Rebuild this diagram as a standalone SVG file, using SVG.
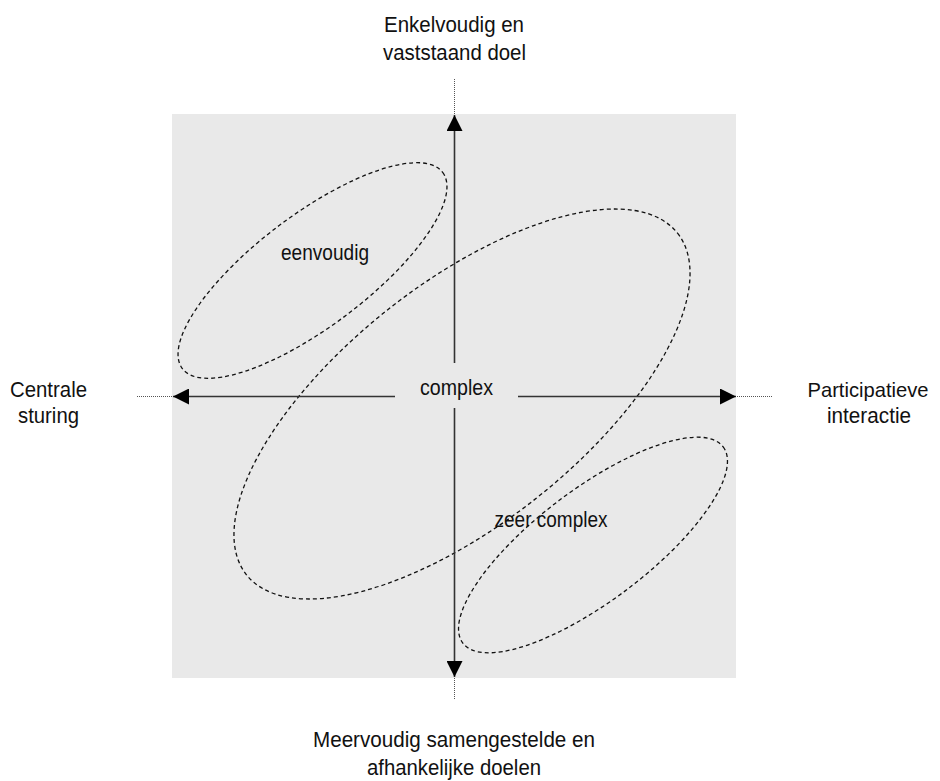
<svg xmlns="http://www.w3.org/2000/svg" width="940" height="781" viewBox="0 0 940 781">
  <defs>
    <marker id="arrow" viewBox="0 0 16 16" refX="16" refY="8" markerWidth="16" markerHeight="16" markerUnits="userSpaceOnUse" orient="auto">
      <path d="M0,0 L16,8 L0,16 Z" fill="#000"/>
    </marker>
  </defs>
  <style>
    text { font-family: "Liberation Sans", Arial, sans-serif; font-size: 22px; fill: #111; text-anchor: middle; }
    .axis { stroke: #333; stroke-width: 1.6; fill: none; }
    .ext { stroke: #555; stroke-width: 1; stroke-dasharray: 1 1; fill: none; }
    .zone { fill: none; stroke: #111; stroke-width: 1.3; stroke-dasharray: 4 3; }
  </style>
  <rect id="field" x="172" y="114" width="564" height="564" fill="#e9e9e9"/>

  <g id="zone-eenvoudig">
    <ellipse class="zone" cx="312.5" cy="270.5" rx="163" ry="56" transform="rotate(-37 312.5 270.5)"/>
    <text x="325" y="260" textLength="88" lengthAdjust="spacingAndGlyphs">eenvoudig</text>
  </g>
  <g id="zone-complex">
    <ellipse class="zone" cx="462" cy="404" rx="275" ry="120" transform="rotate(-38.4 462 404)"/>
  </g>
  <g id="zone-zeer-complex">
    <ellipse class="zone" cx="593" cy="545" rx="163" ry="56" transform="rotate(-37 593 545)"/>
    <text x="551" y="527" textLength="113" lengthAdjust="spacingAndGlyphs">zeer complex</text>
  </g>

  <g id="connectors">
    <line class="axis" x1="454.5" y1="363" x2="454.5" y2="115" marker-end="url(#arrow)"/>
    <line class="axis" x1="454.5" y1="408" x2="454.5" y2="677" marker-end="url(#arrow)"/>
    <line class="axis" x1="395" y1="396.5" x2="173" y2="396.5" marker-end="url(#arrow)"/>
    <line class="axis" x1="518" y1="396.5" x2="736" y2="396.5" marker-end="url(#arrow)"/>
    <line class="ext" x1="454.5" y1="79" x2="454.5" y2="114"/>
    <line class="ext" x1="454.5" y1="678" x2="454.5" y2="700"/>
    <line class="ext" x1="137" y1="396.5" x2="172" y2="396.5"/>
    <line class="ext" x1="737" y1="396.5" x2="772" y2="396.5"/>
  </g>

  <g id="label-complex">
    <text x="456.5" y="395" textLength="73" lengthAdjust="spacingAndGlyphs">complex</text>
  </g>
  <g id="pole-top">
    <text x="454" y="32" textLength="140" lengthAdjust="spacingAndGlyphs">Enkelvoudig en</text>
    <text x="454.5" y="60" textLength="143" lengthAdjust="spacingAndGlyphs">vaststaand doel</text>
  </g>
  <g id="pole-left">
    <text x="48.5" y="397" textLength="77" lengthAdjust="spacingAndGlyphs">Centrale</text>
    <text x="48.5" y="423" textLength="61" lengthAdjust="spacingAndGlyphs">sturing</text>
  </g>
  <g id="pole-right">
    <text x="868" y="397" style="font-size:21px" textLength="121" lengthAdjust="spacingAndGlyphs">Participatieve</text>
    <text x="869" y="423" textLength="84" lengthAdjust="spacingAndGlyphs">interactie</text>
  </g>
  <g id="pole-bottom">
    <text x="454" y="747" textLength="282" lengthAdjust="spacingAndGlyphs">Meervoudig samengestelde en</text>
    <text x="454" y="775" textLength="174" lengthAdjust="spacingAndGlyphs">afhankelijke doelen</text>
  </g>
</svg>
